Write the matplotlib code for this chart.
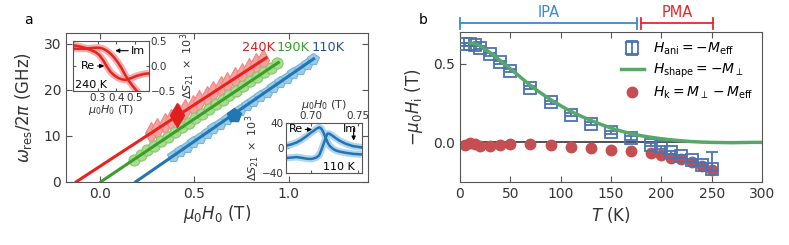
import numpy as np
import matplotlib
matplotlib.use("Agg")
import matplotlib.pyplot as plt
import matplotlib.transforms as mtransforms

# ---- panel a: resonance frequency vs field ----
f_240 = [10.5, 11.5, 12.5, 13.5, 14.5, 15.5, 16.5, 17.5, 18.5, 19.5, 20.5,
         21.5, 22.5, 23.5, 24.5, 25.5, 26.5]
h_240 = [0.270, 0.302, 0.343, 0.377, 0.418, 0.451, 0.493, 0.526, 0.567, 0.601,
         0.642, 0.675, 0.717, 0.750, 0.791, 0.825, 0.866]
f_190 = [4.8, 5.8, 6.8, 7.8, 8.8, 9.8, 10.8, 11.8, 12.8, 13.8, 14.8, 15.8,
         16.8, 17.8, 18.8, 19.8, 20.8, 21.8, 22.8, 23.8, 24.8, 25.8]
h_190 = [0.179, 0.215, 0.251, 0.288, 0.324, 0.360, 0.396, 0.433, 0.469, 0.505,
         0.541, 0.577, 0.614, 0.650, 0.686, 0.722, 0.759, 0.795, 0.831, 0.867,
         0.904, 0.940]
f_110 = [5.6, 6.6, 7.6, 8.6, 9.6, 10.6, 11.6, 12.6, 13.6, 14.6, 15.6, 16.6,
         17.6, 18.6, 19.6, 20.6, 21.6, 22.6, 23.6, 24.6, 25.6, 26.6]
h_110 = [0.388, 0.423, 0.459, 0.494, 0.529, 0.565, 0.600, 0.635, 0.671, 0.706,
         0.741, 0.777, 0.812, 0.847, 0.883, 0.918, 0.953, 0.989, 1.024, 1.059,
         1.095, 1.130]
# linear fits (end points)
fit_240_h = [-0.125, 0.880]
fit_240_f = [0.0, 26.9]
fit_190_h = [0.005, 0.945]
fit_190_f = [0.0, 25.9]
fit_110_h = [0.190, 1.132]
fit_110_f = [0.0, 26.7]
# highlighted points (shown in insets)
hl_240 = (0.408, 14.6)
hl_110 = (0.708, 14.6)

# inset 240 K
in1_h = [0.17, 0.20, 0.23, 0.26, 0.29, 0.31, 0.33, 0.35, 0.37, 0.39, 0.41,
         0.43, 0.45, 0.47, 0.49, 0.51, 0.53, 0.55, 0.575]
in1_re = [0.42, 0.40, 0.37, 0.33, 0.28, 0.22, 0.12, -0.01, -0.12, -0.19, -0.24,
          -0.27, -0.28, -0.26, -0.23, -0.20, -0.18, -0.16, -0.15]
in1_im = [0.35, 0.35, 0.35, 0.36, 0.37, 0.37, 0.35, 0.31, 0.25, 0.17, 0.07,
          -0.05, -0.19, -0.31, -0.41, -0.50, -0.58, -0.64, -0.70]
# inset 110 K
in2_h = [0.674, 0.680, 0.685, 0.690, 0.6955, 0.700, 0.7025, 0.706, 0.709,
         0.711, 0.713, 0.715, 0.7166, 0.718, 0.720, 0.7237, 0.727, 0.731,
         0.7377, 0.745, 0.754]
in2_re = [3.6, 6.0, 8.8, 13.0, 19.0, 24.5, 27.0, 31.0, 33.4, 32.0, 27.0, 20.0,
          14.0, 9.0, 3.6, -1.5, -4.2, -6.0, -7.9, -9.5, -10.5]
in2_im = [-16.3, -15.5, -14.7, -15.8, -17.3, -17.8, -17.3, -15.5, -12.0, -5.0,
          3.6, 12.0, 19.3, 23.5, 23.0, 19.3, 15.5, 11.5, 6.5, 3.0, 1.0]

# ---- panel b: anisotropy fields vs temperature ----
T_ani = [5, 10, 15, 20, 30, 40, 50, 70, 90, 110, 130, 150, 170, 190, 200,
         210, 220, 230, 240, 250]
H_ani = [0.623, 0.625, 0.622, 0.602, 0.560, 0.510, 0.455, 0.347, 0.255, 0.177,
         0.119, 0.064, 0.028, -0.015, -0.030, -0.064, -0.089, -0.115, -0.142,
         -0.170]
err_lo = [0.01] * 19 + [0.01]
err_hi = [0.01] * 19 + [0.11]
T_shape = [10, 15, 20, 30, 40, 50, 60, 70, 80, 90, 100, 110, 120, 130, 140,
           150, 160, 170, 180, 190, 200, 210, 220, 230, 240, 250, 260, 270,
           280, 290, 300]
H_shape = [0.632, 0.628, 0.613, 0.570, 0.520, 0.468, 0.415, 0.362, 0.315,
           0.272, 0.233, 0.198, 0.167, 0.140, 0.114, 0.091, 0.072, 0.055,
           0.042, 0.032, 0.023, 0.016, 0.010, 0.005, 0.002, 0.0, -0.001,
           -0.002, -0.001, 0.0, 0.0]
T_k = [5, 10, 15, 20, 30, 40, 50, 70, 90, 110, 130, 150, 170, 190, 200, 210,
       220, 230, 240, 250]
H_k = [-0.019, -0.004, -0.009, -0.024, -0.021, -0.015, -0.011, -0.012, -0.019,
       -0.028, -0.038, -0.047, -0.053, -0.068, -0.078, -0.098, -0.106, -0.127,
       -0.153, -0.174]
ipa_range = [0, 176]
pma_range = [180, 251]

plt.rcParams['font.family'] = ['DejaVu Sans']
plt.rcParams['mathtext.fontset'] = 'dejavusans'
plt.rcParams['xtick.direction'] = 'in'
plt.rcParams['ytick.direction'] = 'in'
plt.rcParams['axes.edgecolor'] = '#555555'
plt.rcParams['xtick.color'] = '#555555'
plt.rcParams['ytick.color'] = '#555555'
plt.rcParams['xtick.labelcolor'] = '#333333'
plt.rcParams['ytick.labelcolor'] = '#333333'
plt.rcParams['axes.labelcolor'] = '#333333'

fig = plt.figure(figsize=(7.89, 2.45), dpi=100)

c_red, c_green, c_blue = '#e8231f', '#3a9e2c', '#2077b4'

# ---------------- panel a ----------------
ax = fig.add_axes([0.0837, 0.2584, 0.3827, 0.6066])
ax.plot(h_240, f_240, ls='none', marker='d', ms=11, mfc='#f4a3a1', mec='#f08482',
        mew=0.8, zorder=2)
ax.plot(h_190, f_190, ls='none', marker='o', ms=8, mfc='#a9dc8e', mec='#86c76a',
        mew=0.8, zorder=2)
ax.plot(h_110, f_110, ls='none', marker='p', ms=8.5, mfc='#9ccbe6', mec='#78b4da',
        mew=0.8, zorder=2)
ax.plot(fit_240_h, fit_240_f, color=c_red, lw=2.2, zorder=3)
ax.plot(fit_190_h, fit_190_f, color=c_green, lw=2.2, zorder=3)
ax.plot(fit_110_h, fit_110_f, color=c_blue, lw=2.2, zorder=3)
ax.plot([hl_240[0]], [hl_240[1]], marker='d', ms=12, color='#e0201c', zorder=4)
ax.plot([hl_110[0]], [hl_110[1]], marker='p', ms=10, color=c_blue, zorder=4)
ax.text(0.75, 28.4, '240K', color='#d42020', fontsize=9.3)
ax.text(0.935, 28.4, '190K', color=c_green, fontsize=9.3)
ax.text(1.12, 28.4, '110K', color='#2450a8', fontsize=9.3)
ax.set_xlim(-0.18, 1.42)
ax.set_ylim(0, 32.3)
ax.set_xticks([0.0, 0.5, 1.0])
ax.set_yticks([0, 10, 20, 30])
ax.tick_params(labelsize=10, top=True, right=True, length=4)
ax.set_xlabel(r'$\mu_0 H_0$ (T)', fontsize=12, labelpad=2)
ax.set_ylabel(r'$\omega_{\rm res}/2\pi$ (GHz)', fontsize=12, labelpad=7)

# inset 240 K
ia = fig.add_axes([0.0929, 0.6298, 0.0956, 0.2016])
for y in (in1_re, in1_im):
    ia.plot(in1_h, y, color='#f6a5a5', lw=5, alpha=0.9, solid_capstyle='butt')
for y in (in1_re, in1_im):
    ia.plot(in1_h, y, color='#e32420', lw=1.8)
ia.set_xlim(0.17, 0.575)
ia.set_ylim(-0.5, 0.5)
ia.set_xticks([0.3, 0.4, 0.5])
ia.set_yticks([-0.5, 0.0, 0.5])
ia.yaxis.tick_right()
ia.yaxis.set_label_position('right')
ia.tick_params(labelsize=7.5, length=2.5, pad=1.5, left=True, top=True)
ia.set_xlabel(r'$\mu_0 H_0$ (T)', fontsize=8, labelpad=0)
ia.set_ylabel(r'$\Delta S_{21}\ \times\ 10^3$', fontsize=8, labelpad=2)
ia.annotate('Re', xy=(0.336, 0.0), xytext=(0.21, 0.0), fontsize=8, va='center',
            arrowprops=dict(arrowstyle='-|>', color='black', lw=0.8,
                            mutation_scale=6, shrinkA=0, shrinkB=0))
ia.annotate('Im', xy=(0.395, 0.31), xytext=(0.48, 0.31), fontsize=8, va='center',
            arrowprops=dict(arrowstyle='-|>', color='black', lw=0.8,
                            mutation_scale=6, shrinkA=0, shrinkB=0))
ia.text(0.178, -0.38, '240 K', fontsize=8, va='center')

# inset 110 K
ib = fig.add_axes([0.3625, 0.2927, 0.0959, 0.2040])
for y in (in2_re, in2_im):
    ib.plot(in2_h, y, color='#a8d1ec', lw=5, alpha=0.9, solid_capstyle='butt')
for y in (in2_re, in2_im):
    ib.plot(in2_h, y, color='#2474b4', lw=1.8)
ib.set_xlim(0.674, 0.754)
ib.set_ylim(-41, 40)
ib.set_xticks([0.70, 0.75])
ib.set_xticklabels(['0.70', '0.75'])
ib.set_yticks([-40, 0, 40])
ib.xaxis.tick_top()
ib.xaxis.set_label_position('top')
ib.tick_params(labelsize=7.5, length=2.5, pad=1.5, bottom=True, right=True)
ib.set_xlabel(r'$\mu_0 H_0$ (T)', fontsize=8, labelpad=2.5)
ib.set_ylabel(r'$\Delta S_{21}\ \times\ 10^3$', fontsize=8, labelpad=0)
ib.annotate('Re', xy=(0.7015, 30), xytext=(0.6765, 30), fontsize=8, va='center',
            arrowprops=dict(arrowstyle='-|>', color='black', lw=0.8,
                            mutation_scale=6, shrinkA=0, shrinkB=0))
ib.text(0.7345, 30, 'Im', fontsize=8, va='center')
ib.annotate('', xy=(0.7455, 12), xytext=(0.7455, 32),
            arrowprops=dict(arrowstyle='-|>', color='black', lw=0.8,
                            mutation_scale=6, shrinkA=0, shrinkB=0))
ib.text(0.7135, -30, '110 K', fontsize=8, va='center')

fig.text(0.030, 0.900, 'a', fontsize=10)
fig.text(0.531, 0.900, 'b', fontsize=10)

# ---------------- panel b ----------------
bx = fig.add_axes([0.583, 0.2584, 0.3828, 0.6098])
bx.axhline(0, color='#222222', lw=1.1, zorder=1)
bx.errorbar(T_ani, H_ani, yerr=[err_lo, err_hi], fmt='s', ms=8, mfc='none',
            mec='#4c72b0', mew=1.3, ecolor='#4c72b0', elinewidth=1.3,
            capsize=4.5, capthick=1.3, zorder=3,
            label=r'$H_{\rm ani} = -M_{\rm eff}$')
bx.plot(T_shape, H_shape, color='#55a868', lw=2.5, zorder=4,
        label=r'$H_{\rm shape} = -M_{\perp}$')
bx.plot(T_k, H_k, ls='none', marker='o', ms=7.5, color='#c44e52', zorder=2,
        label=r'$H_{\rm k} = M_{\perp} - M_{\rm eff}$')
bx.set_xlim(0, 300)
bx.set_ylim(-0.25, 0.70)
bx.set_xticks([0, 50, 100, 150, 200, 250, 300])
bx.set_yticks([0.0, 0.5])
bx.tick_params(labelsize=10, top=True, length=4)
bx.set_xlabel(r'$T$ (K)', fontsize=12, labelpad=3)
bx.set_ylabel(r'$-\mu_0 H_{\rm i}$ (T)', fontsize=12, labelpad=6)
h, l = bx.get_legend_handles_labels()
order = [l.index(r'$H_{\rm ani} = -M_{\rm eff}$'),
         l.index(r'$H_{\rm shape} = -M_{\perp}$'),
         l.index(r'$H_{\rm k} = M_{\perp} - M_{\rm eff}$')]
bx.legend([h[i] for i in order], [l[i] for i in order], loc='upper right',
          frameon=False, fontsize=10, handlelength=1.6, handletextpad=0.7,
          labelspacing=0.35, borderaxespad=0.2, bbox_to_anchor=(1.0, 1.0))

# IPA / PMA brackets above panel b
trans = mtransforms.blended_transform_factory(bx.transData, bx.transAxes)
for rng, col, name in ((ipa_range, '#3a8ad0', 'IPA'), (pma_range, '#e8262c', 'PMA')):
    bx.plot(rng, [1.06, 1.06], color=col, lw=1.3, transform=trans, clip_on=False)
    for xe in rng:
        bx.plot([xe, xe], [1.025, 1.095], color=col, lw=1.3, transform=trans,
                clip_on=False)
    bx.text(sum(rng) / 2, 1.085, name, color=col, fontsize=10.5, ha='center',
            va='bottom', transform=trans)

fig.savefig('out.png', dpi=100)
